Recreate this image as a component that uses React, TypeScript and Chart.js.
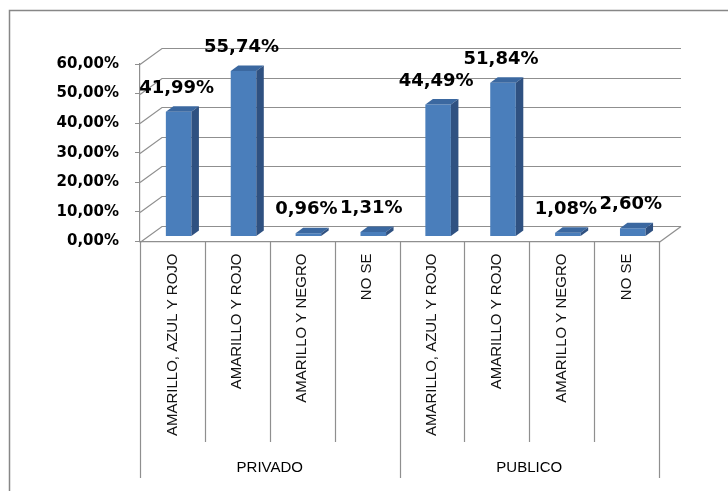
import React, { useEffect, useRef } from "react";
import { Chart, registerables } from "chart.js";

Chart.register(...registerables);

// ---------- data ----------
const categories = [
  "AMARILLO, AZUL Y ROJO",
  "AMARILLO Y ROJO",
  "AMARILLO Y NEGRO",
  "NO SE",
  "AMARILLO, AZUL Y ROJO",
  "AMARILLO Y ROJO",
  "AMARILLO Y NEGRO",
  "NO SE",
];
const groups = ["PRIVADO", "PUBLICO"];
const groupSizes = [4, 4];
const values = [41.99, 55.74, 0.96, 1.31, 44.49, 51.84, 1.08, 2.6];
const yTicks = [0, 10, 20, 30, 40, 50, 60];

// ---------- style ----------
const W = 728;
const H = 491;
const PLOT_TOP = 64;
const PLOT_BOTTOM = 241.5;
const PLOT_LEFT = 140;
const PLOT_RIGHT = 659;
const Y_MAX = 60;
const WALL_DX = 22;
const WALL_DY = -16;
const BAR_BACK_Y = 5.5; // bars sit this far behind the front edge
const BAR_BACK_X = 6.2;
const BAR_DX = 7.5;
const BAR_DY = -5.5;
const GRID = "#8f8f8f";
const FRONT = "#4a7ebb";
const SIDE = "#2f5181";
const TOP = "#3b68a0";
const SEP_INNER_END = 442;
const SEP_OUTER_END = 478;
const GROUP_LABEL_Y = 468;

const pxPerUnit = (PLOT_BOTTOM - PLOT_TOP) / Y_MAX;
const barValShift = BAR_BACK_Y / pxPerUnit;
const catWidth = (PLOT_RIGHT - PLOT_LEFT) / categories.length;
const barIdxShift = BAR_BACK_X / catWidth;

const fmt = (v: number) => v.toFixed(2).replace(".", ",") + "%";

const threeD = {
  id: "threeD",
  beforeDraw(chart: any) {
    const { ctx } = chart;
    ctx.save();
    ctx.strokeStyle = "#878787";
    ctx.lineWidth = 1.5;
    ctx.strokeRect(9.5, 10.5, W + 20, H + 20);
    ctx.restore();
  },
  beforeDatasetsDraw(chart: any) {
    const { ctx, chartArea: ca, scales } = chart;
    const y = scales.y;
    ctx.save();
    ctx.strokeStyle = GRID;
    ctx.lineWidth = 1.2;
    for (const t of yTicks) {
      const py = Math.round(y.getPixelForValue(t)) + 0.5;
      ctx.beginPath();
      ctx.moveTo(ca.left, py);
      ctx.lineTo(ca.left + WALL_DX, py + WALL_DY);
      ctx.lineTo(ca.right + WALL_DX, py + WALL_DY);
      ctx.stroke();
    }
    const p0 = Math.round(y.getPixelForValue(0)) + 0.5;
    ctx.beginPath();
    ctx.moveTo(ca.right, p0);
    ctx.lineTo(ca.right + WALL_DX, p0 + WALL_DY);
    ctx.stroke();
    ctx.restore();
  },
  afterDatasetsDraw(chart: any) {
    const { ctx, chartArea: ca, scales } = chart;
    const meta = chart.getDatasetMeta(0);
    ctx.save();
    meta.data.forEach((bar: any, i: number) => {
      const { x, y, base, width } = bar.getProps(["x", "y", "base", "width"], true);
      const l = x - width / 2;
      const r = x + width / 2;
      ctx.fillStyle = TOP;
      ctx.beginPath();
      ctx.moveTo(l, y);
      ctx.lineTo(l + BAR_DX, y + BAR_DY);
      ctx.lineTo(r + BAR_DX, y + BAR_DY);
      ctx.lineTo(r, y);
      ctx.closePath();
      ctx.fill();
      ctx.fillStyle = SIDE;
      ctx.beginPath();
      ctx.moveTo(r, y);
      ctx.lineTo(r + BAR_DX, y + BAR_DY);
      ctx.lineTo(r + BAR_DX, base + BAR_DY);
      ctx.lineTo(r, base);
      ctx.closePath();
      ctx.fill();
      ctx.fillStyle = "#000";
      ctx.font = 'bold 18px "DejaVu Sans"';
      ctx.textAlign = "center";
      ctx.textBaseline = "middle";
      ctx.fillText(fmt(values[i]), x - 2, y - 23.5);
    });

    // category separators and group labels
    const xs = scales.x;
    const step = xs.getPixelForValue(1) - xs.getPixelForValue(0);
    const start = xs.getPixelForValue(0) - step / 2;
    const groupEdges = [0];
    groupSizes.forEach((g) => groupEdges.push(groupEdges[groupEdges.length - 1] + g));
    ctx.strokeStyle = GRID;
    ctx.lineWidth = 1.2;
    for (let k = 0; k <= categories.length; k++) {
      const px = Math.round(start + k * step) + 0.5;
      const outer = groupEdges.includes(k);
      ctx.beginPath();
      ctx.moveTo(px, ca.bottom);
      ctx.lineTo(px, outer ? SEP_OUTER_END : SEP_INNER_END);
      ctx.stroke();
    }
    ctx.fillStyle = "#000";
    ctx.font = '15px "Liberation Sans"';
    ctx.textAlign = "center";
    ctx.textBaseline = "middle";
    groups.forEach((g, gi) => {
      const a = start + groupEdges[gi] * step;
      const b = start + groupEdges[gi + 1] * step;
      ctx.fillText(g, (a + b) / 2, GROUP_LABEL_Y);
    });
    ctx.restore();
  },
};

export default function App() {
  const ref = useRef<HTMLCanvasElement | null>(null);
  useEffect(() => {
    if (!ref.current) return;
    const chart = new Chart(ref.current, {
      type: "bar",
      data: {
        labels: categories,
        datasets: [
          {
            data: values.map((v, i) => ({ x: i, y: v })) as any,
            xAxisID: "xb",
            yAxisID: "y2",
            backgroundColor: FRONT,
            borderWidth: 0,
            categoryPercentage: 1,
            barPercentage: 0.394,
          },
        ],
      },
      options: {
        responsive: false,
        animation: false,
        devicePixelRatio: 1,
        layout: { padding: { top: PLOT_TOP, right: W - PLOT_RIGHT, bottom: 0, left: 0 } },
        plugins: { legend: { display: false }, tooltip: { enabled: false } },
        scales: {
          x: {
            type: "category",
            position: "bottom",
            offset: true,
            grid: { display: false, offset: true },
            border: { display: true, color: GRID, width: 1.2 },
            ticks: {
              autoSkip: false,
              minRotation: 90,
              maxRotation: 90,
              padding: 4,
              color: "#111",
              font: { family: "Liberation Sans", size: 15 },
            },
            afterFit: (s: any) => {
              s.height = H - PLOT_BOTTOM;
            },
          },
          xb: {
            type: "linear",
            display: false,
            offset: false,
            grid: { offset: false },
            min: -0.5 - barIdxShift,
            max: categories.length - 0.5 - barIdxShift,
            afterBuildTicks: (s: any) => {
              s.ticks = categories.map((_, i) => ({ value: i }));
            },
          },
          y: {
            type: "linear",
            position: "left",
            min: 0,
            max: Y_MAX,
            grid: { display: true, drawOnChartArea: false, drawTicks: true, tickLength: 5, color: GRID },
            border: { display: true, color: GRID, width: 1.2 },
            ticks: {
              stepSize: 10,
              padding: 16,
              color: "#000",
              font: { family: "DejaVu Sans", size: 15, weight: "bold" },
              callback: (v: any) => fmt(Number(v)),
            },
            afterFit: (s: any) => {
              s.width = PLOT_LEFT;
            },
          },
          y2: {
            type: "linear",
            display: false,
            min: -barValShift,
            max: Y_MAX - barValShift,
          },
        },
      },
      plugins: [threeD],
    });
    return () => chart.destroy();
  }, []);
  return (
    <div style={{ position: "absolute", left: 0, top: 0, width: W, height: H }}>
      <canvas ref={ref} width={W} height={H} style={{ width: W, height: H, display: "block" }} />
    </div>
  );
}
